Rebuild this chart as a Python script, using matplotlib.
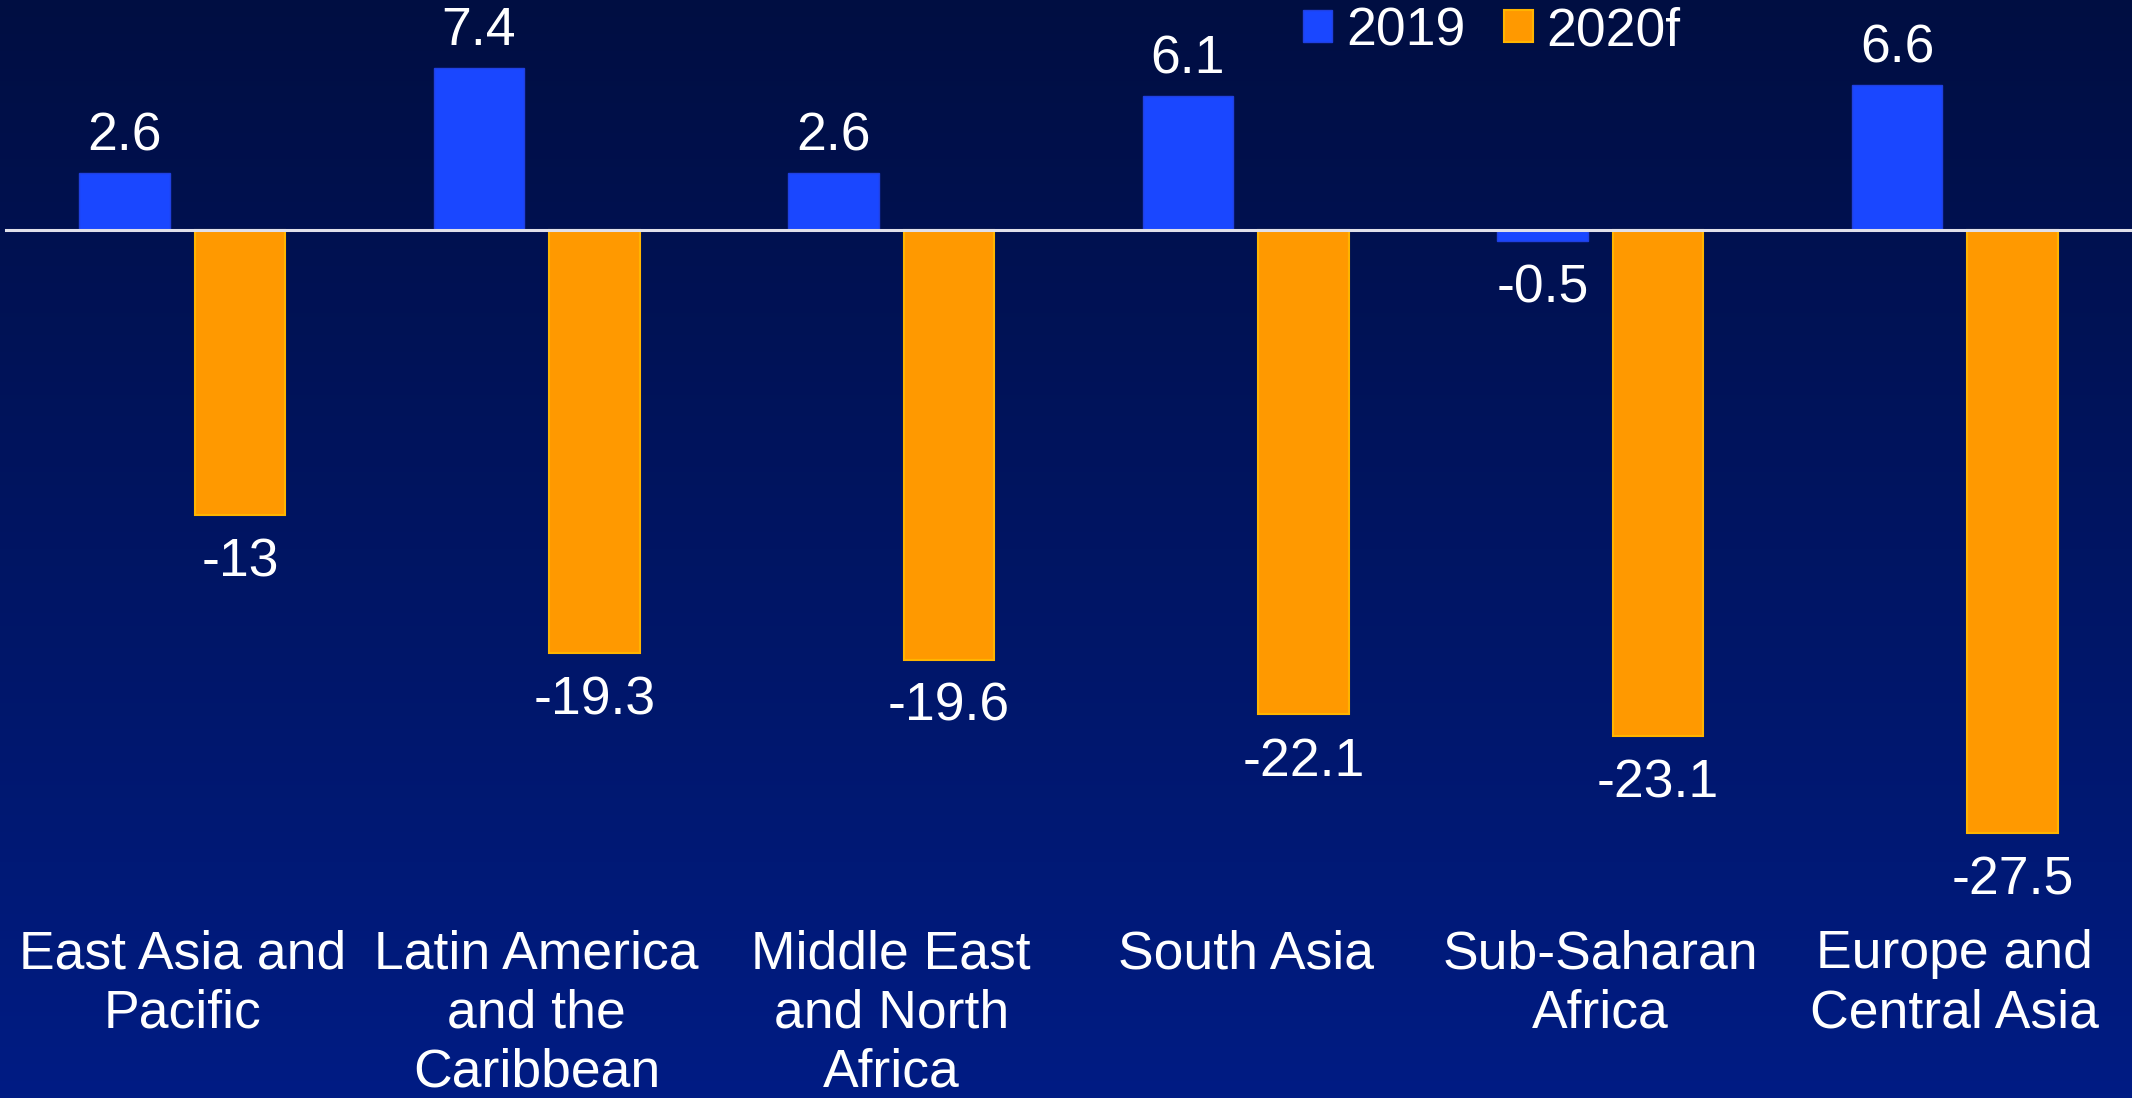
import numpy as np
import matplotlib.pyplot as plt
from matplotlib.colors import LinearSegmentedColormap

plt.rcParams['font.family'] = ['Liberation Sans', 'DejaVu Sans']

regions = ['East Asia and\nPacific', 'Latin America\nand the\nCaribbean',
           'Middle East\nand North\nAfrica', 'South Asia',
           'Sub-Saharan\nAfrica', 'Europe and\nCentral Asia']
growth_2019 = [2.6, 7.4, 2.6, 6.1, -0.5, 6.6]
growth_2020f = [-13, -19.3, -19.6, -22.1, -23.1, -27.5]
series_names = ['2019', '2020f']

BLUE = '#1a47ff'
ORANGE = '#ff9900'
FS = 38.5

fig = plt.figure(figsize=(21.32, 10.98), dpi=100)

# gradient background
bg = fig.add_axes([0, 0, 1, 1], zorder=-1)
grad = LinearSegmentedColormap.from_list('bg', ['#000e42', '#001c84'])
bg.imshow(np.linspace(0, 1, 256).reshape(-1, 1), aspect='auto', cmap=grad,
          extent=[0, 1, 0, 1], origin='upper')
bg.axis('off')

ax = fig.add_axes([0, 0, 1, 1])
ax.patch.set_alpha(0)
x = np.arange(len(regions))
w = 0.255
off = 0.163
b1 = ax.bar(x - off, growth_2019, w, color=BLUE, edgecolor='#2040e0',
            linewidth=1, label=series_names[0], zorder=2)
b2 = ax.bar(x + off, growth_2020f, w, color=ORANGE, edgecolor='#ffb400',
            linewidth=1.5, label=series_names[1], zorder=2)

ax.set_xlim(-0.514, 5.5)
ax.set_ylim(-39.6, 10.5)
ax.axhline(0, xmin=0.003, color='#e0e0ea', linewidth=2.2, zorder=3)

for bars in (b1, b2):
    for rect, v in zip(bars, bars.datavalues):
        cx = rect.get_x() + rect.get_width() / 2
        if v >= 0:
            ax.annotate(f'{v:g}', (cx, v), xytext=(0, 16.5), textcoords='offset points',
                        ha='center', va='baseline', color='white', fontsize=FS)
        else:
            ax.annotate(f'{v:g}', (cx, v), xytext=(0, -16), textcoords='offset points',
                        ha='center', va='top', color='white', fontsize=FS)

for xi, name in zip(x, regions):
    ax.text(xi, -31.9, name, ha='center', va='top', color='white',
            fontsize=FS, linespacing=1.23)

ax.axis('off')

ax.legend(loc='center left', bbox_to_anchor=(1303 / 2132, 1 - 31 / 1098),
          bbox_transform=fig.transFigure, ncol=2, frameon=False,
          fontsize=FS, labelcolor='white', handlelength=0.55, handleheight=0.55,
          handletextpad=0.25, columnspacing=0.72, borderpad=0, borderaxespad=0)

fig.savefig('out.png', dpi=100)
